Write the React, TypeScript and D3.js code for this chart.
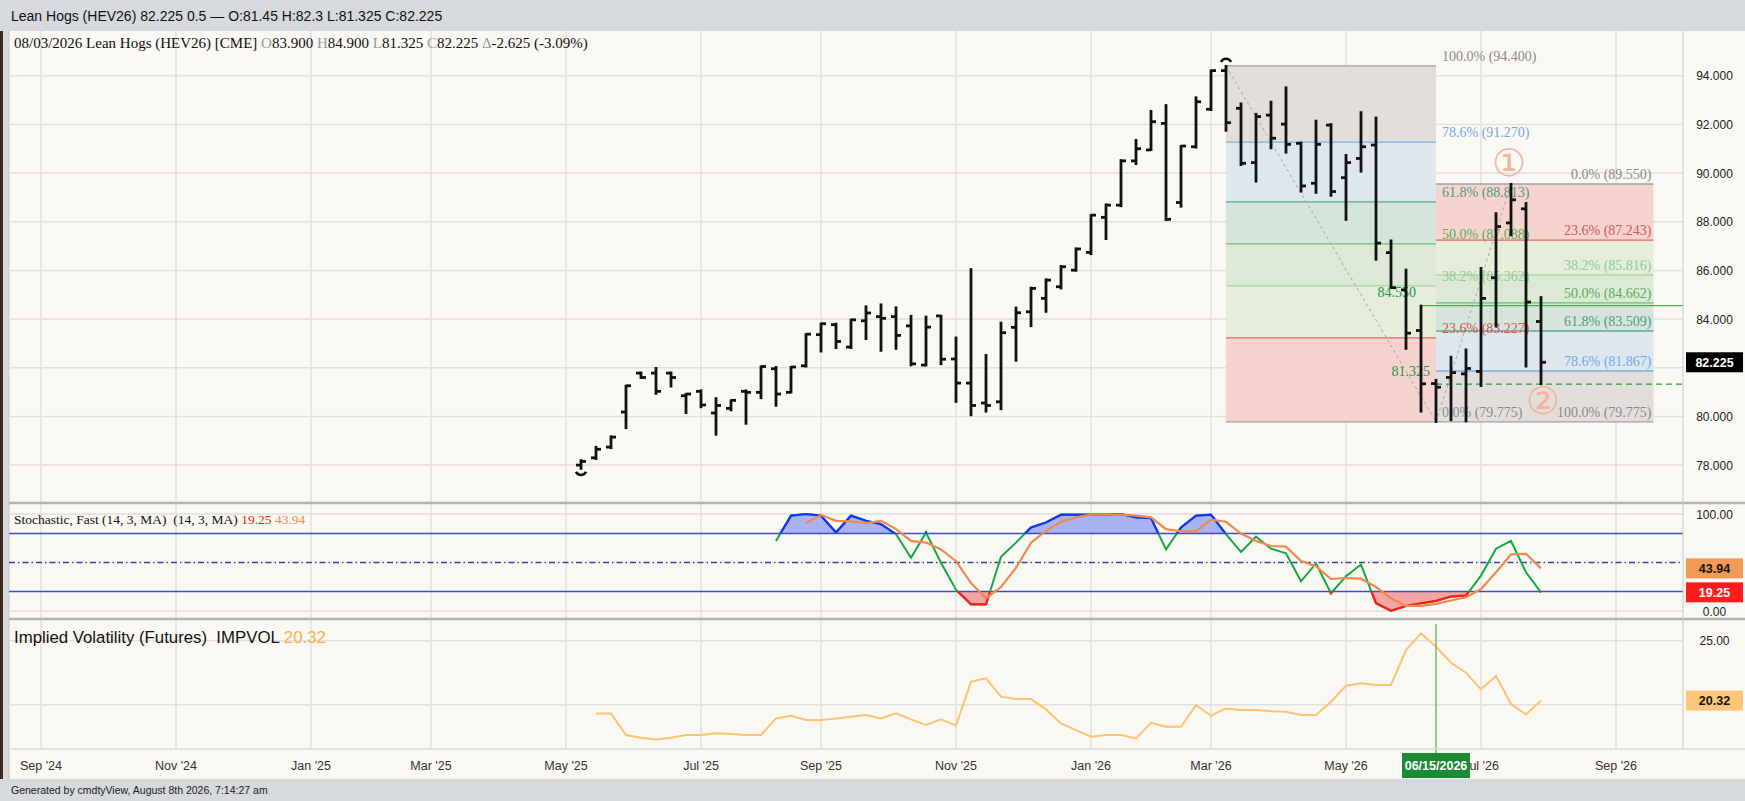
import * as d3 from "d3";

// weekly axis: index 0 = week of 2024-09-02
const axisStartStr = "2024-09-02";
const tickDates = ["2024-09-02", "2024-11-04", "2025-01-06", "2025-03-03", "2025-05-05", "2025-07-07", "2025-09-01", "2025-11-03", "2026-01-05", "2026-03-02", "2026-05-04", "2026-07-06", "2026-09-07"];
const tickLabels = ["Sep '24", "Nov '24", "Jan '25", "Mar '25", "May '25", "Jul '25", "Sep '25", "Nov '25", "Jan '26", "Mar '26", "May '26", "Jul '26", "Sep '26"];

// weekly OHLC starting week of 2025-05-12
const firstBar = "2025-05-12";
const opens = [78.0, 78.3, 78.74, 80.18, 81.78, 81.78, 81.78, 80.85, 81.03, 80.14, 80.33, 81.03, 80.99, 81.96, 80.99, 82.08, 83.36, 83.77, 82.85, 83.93, 84.1, 84.1, 83.72, 82.11, 84.13, 82.36, 81.37, 80.55, 80.6, 83.66, 84.3, 84.85, 85.33, 86.01, 86.74, 88.18, 88.68, 90.5, 90.95, 92.04, 88.79, 91.08, 92.62, 94.21, 92.66, 90.43, 92.38, 92.01, 91.22, 89.58, 91.97, 89.81, 90.6, 91.15, 86.73, 85.2, 83.53, 81.35, 81.6, 81.75, 81.85, 85.7, 87.95, 88.53, 83.9];
const highs = [78.2, 78.75, 79.18, 81.26, 81.8, 81.99, 81.8, 80.92, 81.07, 80.75, 80.66, 81.07, 82.05, 82.03, 82.03, 83.38, 83.81, 83.81, 83.97, 84.52, 84.6, 84.48, 84.13, 84.1, 84.13, 83.24, 86.05, 82.52, 83.85, 84.47, 85.29, 85.63, 86.18, 86.9, 88.27, 88.71, 90.53, 91.36, 92.55, 92.79, 91.11, 93.11, 94.21, 94.4, 92.86, 92.43, 92.93, 93.52, 91.25, 92.15, 92.01, 90.74, 92.5, 92.28, 87.23, 86.03, 84.55, 81.5, 82.45, 82.75, 86.1, 88.35, 89.55, 88.77, 84.9];
const lows = [77.85, 78.25, 78.7, 79.52, 81.58, 80.93, 81.23, 80.14, 80.38, 79.25, 80.25, 79.7, 80.75, 80.44, 80.99, 82.05, 82.67, 82.81, 82.81, 83.18, 82.7, 82.78, 82.1, 82.1, 82.15, 80.6, 80.05, 80.2, 80.3, 82.29, 83.71, 84.3, 85.26, 85.99, 86.67, 87.29, 88.64, 90.37, 90.95, 88.07, 88.62, 91.05, 92.59, 91.74, 90.33, 89.65, 91.02, 90.84, 89.24, 89.19, 89.07, 88.08, 90.06, 86.44, 85.29, 82.78, 80.2, 79.775, 79.85, 79.8, 81.25, 83.7, 87.45, 82.05, 81.325];
const closes = [78.15, 78.65, 79.15, 81.26, 81.6, 81.03, 81.6, 80.92, 80.47, 80.45, 80.66, 80.99, 82.05, 80.92, 82.03, 83.38, 83.81, 83.08, 83.97, 84.25, 84.03, 83.33, 82.16, 83.67, 82.35, 81.37, 80.45, 80.45, 83.44, 84.26, 85.26, 85.6, 86.15, 86.88, 88.27, 88.68, 90.5, 91.0, 92.11, 88.1, 91.11, 92.93, 94.21, 92.07, 90.4, 92.32, 91.43, 91.18, 89.47, 91.18, 89.24, 90.43, 91.08, 87.12, 85.29, 83.42, 81.34, 81.2, 81.8, 81.97, 84.85, 87.8, 88.9, 84.7, 82.225];

const priceTicks = [78, 80, 82, 84, 86, 88, 90, 92, 94];

// stochastic %K from week of 2025-08-11, %D from week of 2025-08-25
const stochKStart = "2025-08-11";
const stochK = [72.2, 98.3, 100, 98.3, 80.9, 98.3, 93, 89.6, 79.2, 54.9, 80.9, 49.7, 21.9, 6.9, 6.9, 55.9, 70.5, 86.1, 91.3, 99.3, 99.3, 99.3, 99.3, 100, 96.5, 95.8, 63.5, 86.1, 98.3, 99.3, 79.2, 60.8, 76.7, 64.2, 59.4, 30.6, 49, 18.4, 35.8, 47.9, 8, 0.3, 5.2, 8, 10.4, 14.9, 16, 36.5, 64.2, 72.2, 39.9, 19.25];
const stochDStart = "2025-08-25";
const stochD = [90.6, 99, 93, 92.4, 90.6, 93, 84.4, 72.2, 70.5, 63.5, 51.4, 28.8, 13.2, 24.7, 44.4, 70.5, 82.6, 92, 96.5, 99.3, 99.3, 99.3, 98.3, 96.5, 84.4, 82, 82, 94.1, 92, 79.9, 72.2, 67, 66.3, 51.4, 46.2, 33, 34, 33.3, 24.7, 13.2, 5.2, 5.2, 7.3, 10.8, 14.2, 22.6, 39.9, 58.3, 59, 43.94];

// implied volatility from week of 2025-05-19
const ivStart = "2025-05-19";
const impVol = [19.32, 19.32, 17.63, 17.42, 17.29, 17.42, 17.63, 17.63, 17.76, 17.71, 17.63, 17.63, 18.93, 19.14, 18.8, 18.8, 18.93, 19.06, 19.19, 18.93, 19.32, 18.85, 18.41, 18.85, 18.36, 21.8, 22.06, 20.63, 20.44, 20.44, 19.64, 18.54, 18.02, 17.5, 17.63, 17.63, 17.37, 18.59, 18.28, 18.28, 19.97, 19.14, 19.71, 19.58, 19.58, 19.48, 19.45, 19.19, 19.19, 20.23, 21.48, 21.67, 21.54, 21.54, 24.27, 25.57, 24.53, 23.28, 22.5, 21.2, 22.24, 20.05, 19.24, 20.32];

// fibonacci retracements
const fibLevels = [0, 0.236, 0.382, 0.5, 0.618, 0.786, 1];
const fib1Prices = [79.775, 83.227, 85.362, 87.088, 88.813, 91.27, 94.4];
const fib2Prices = [89.55, 87.243, 85.816, 84.662, 83.509, 81.867, 79.775];
const fib1From = "2026-03-09";
const fib1To = "2026-06-15";
const fib2Weeks = 14.5;

const parse = d3.timeParse("%Y-%m-%d");
const axisStart = parse(axisStartStr)!;
const wk = (s: string) => d3.timeMonday.count(axisStart, parse(s)!);

const zoneFill = ["#f5d4cf", "#e6eddb", "#dde9d6", "#d6e5dc", "#dfe7ee", "#e2dedb"];
const lineColor = ["#a0a0a8", "#e06464", "#a4d8a4", "#6cc06c", "#58a892", "#78b0ea", "#a0a0a8"];
const labelColor = ["#8a8a8a", "#d45454", "#92cc92", "#56ad56", "#4c9a82", "#70a8e4", "#8a8a8a"];

const SERIF = "Liberation Serif";
const SANS = "Liberation Sans";

export default function App() {
  const x = d3.scaleLinear().domain([0, 105]).range([41, 1616]);
  const yP = d3.scaleLinear().domain([78, 94]).range([465.1, 75.7]);
  const yS = d3.scaleLinear().domain([0, 100]).range([611, 514]);
  const yV = d3.scaleLinear().domain([20, 25]).range([704.7, 640.7]);

  const plotL = 9;
  const plotR = 1683;
  const b0 = wk(firstBar);
  const k0 = wk(stochKStart);
  const d0 = wk(stochDStart);
  const v0 = wk(ivStart);

  const kPts: [number, number][] = stochK.map((v, i) => [k0 + i, v]);
  const dPts: [number, number][] = stochD.map((v, i) => [d0 + i, v]);
  const vPts: [number, number][] = impVol.map((v, i) => [v0 + i, v]);

  const sLine = d3.line<[number, number]>().x((d) => x(d[0])).y((d) => yS(d[1]));
  const vLine = d3.line<[number, number]>().x((d) => x(d[0])).y((d) => yV(d[1]));
  const areaHi = d3.area<[number, number]>().x((d) => x(d[0])).y0(yS(80)).y1((d) => yS(d[1]));
  const areaLo = d3.area<[number, number]>().x((d) => x(d[0])).y0(yS(20)).y1((d) => yS(d[1]));

  const hiIdx = wk(fib1From);
  const loIdx = wk(fib1To);
  const f1a = x(hiIdx);
  const f1b = x(loIdx);
  const f2b = x(loIdx + fib2Weeks);
  const f2hiIdx = b0 + highs.indexOf(89.55);

  const tick = 5;
  const lastIdx = b0 + closes.length - 1;
  const lastClose = closes[closes.length - 1];
  const lastK = stochK[stochK.length - 1];
  const lastD = stochD[stochD.length - 1];
  const lastV = impVol[impVol.length - 1];
  // axis labels hidden behind the last-price box
  const visibleTicks = priceTicks.filter((p) => Math.abs(yP(p) - yP(lastClose)) > 14);

  const axisBox = (y: number, text: string, fill: string, color: string, key: string) => (
    <g key={key}>
      <rect x={1686} y={y - 10} width={57} height={20} fill={fill} />
      <text x={1714.5} y={y + 4.5} textAnchor="middle" fontSize={12.5} fontWeight="bold" fill={color}>{text}</text>
    </g>
  );

  return (
    <svg width={1745} height={801} style={{ position: "absolute", left: 0, top: 0, display: "block" }} fontFamily={SANS}>
      <defs>
        <clipPath id="above80"><rect x={0} y={504} width={1745} height={yS(80) - 504} /></clipPath>
        <clipPath id="below20"><rect x={0} y={yS(20)} width={1745} height={620 - yS(20)} /></clipPath>
      </defs>
      {/* frame */}
      <rect x={0} y={0} width={1745} height={801} fill="#d6d9dd" />
      <rect x={0} y={31} width={3} height={748} fill="#3a2a1c" />
      <rect x={plotL} y={31} width={1745 - plotL} height={748} fill="#faf8f2" />
      <line x1={plotL} x2={plotL} y1={31} y2={779} stroke="#c4c4c4" strokeWidth={1} />
      <text x={11} y={21} fontSize={14} fill="#111">Lean Hogs (HEV26) 82.225 0.5 — O:81.45 H:82.3 L:81.325 C:82.225</text>

      {/* grid */}
      {tickDates.map((t) => (
        <line key={t} x1={x(wk(t))} x2={x(wk(t))} y1={31} y2={749} stroke="#e3e1dd" strokeWidth={1.5} />
      ))}
      {priceTicks.map((p) => (
        <line key={p} x1={plotL} x2={plotR} y1={yP(p)} y2={yP(p)} stroke="#e3e1dd" strokeWidth={1.5} />
      ))}
      {[0, 100].map((v) => (
        <line key={v} x1={plotL} x2={plotR} y1={yS(v)} y2={yS(v)} stroke="#e3e1dd" strokeWidth={1.5} />
      ))}
      {[20, 25].map((v) => (
        <line key={v} x1={plotL} x2={plotR} y1={yV(v)} y2={yV(v)} stroke="#e3e1dd" strokeWidth={1.5} />
      ))}

      {/* fib 1 */}
      {fibLevels.slice(0, -1).map((l, i) => (
        <rect key={"z1" + l} x={f1a} width={f1b - f1a} y={yP(fib1Prices[i + 1])} height={yP(fib1Prices[i]) - yP(fib1Prices[i + 1])} fill={zoneFill[i]} />
      ))}
      {/* fib 2 */}
      {fibLevels.slice(0, -1).map((l, i) => (
        <rect key={"z2" + l} x={f1b} width={f2b - f1b} y={yP(fib2Prices[i])} height={yP(fib2Prices[i + 1]) - yP(fib2Prices[i])} fill={zoneFill[i]} />
      ))}
      {fibLevels.map((l, i) => (
        <line key={"l1" + l} x1={f1a} x2={f1b} y1={yP(fib1Prices[i])} y2={yP(fib1Prices[i])} stroke={lineColor[i]} strokeWidth={1.3} />
      ))}
      {fibLevels.map((l, i) => (
        <line key={"l2" + l} x1={f1b} x2={f2b} y1={yP(fib2Prices[i])} y2={yP(fib2Prices[i])} stroke={lineColor[i]} strokeWidth={1.3} />
      ))}
      <line x1={x(hiIdx)} y1={yP(94.4)} x2={x(loIdx)} y2={yP(79.775)} stroke="#a8a8a8" strokeWidth={1} strokeDasharray="3,3" />
      <line x1={x(loIdx)} y1={yP(79.775)} x2={x(f2hiIdx)} y2={yP(89.55)} stroke="#a8a8a8" strokeWidth={1} strokeDasharray="3,3" />

      {/* green reference lines */}
      <line x1={x(b0 + highs.indexOf(84.55))} x2={plotR} y1={yP(84.55)} y2={yP(84.55)} stroke="#3cb44b" strokeWidth={1.3} />
      <line x1={x(loIdx)} x2={plotR} y1={yP(81.325)} y2={yP(81.325)} stroke="#2a9a3a" strokeWidth={1.3} strokeDasharray="6,4" />

      {/* fib labels */}
      {fibLevels.map((l, i) => (
        <text key={"t1" + l} x={f1b + 6} y={yP(fib1Prices[i]) - 5} fontFamily={SERIF} fontSize={14} fill={labelColor[i]}>
          {`${(l * 100).toFixed(1)}% (${fib1Prices[i].toFixed(3)})`}
        </text>
      ))}
      {fibLevels.map((l, i) => (
        <text key={"t2" + l} x={f2b - 2} y={yP(fib2Prices[i]) - 5} textAnchor="end" fontFamily={SERIF} fontSize={14} fill={labelColor[i]}>
          {`${(l * 100).toFixed(1)}% (${fib2Prices[i].toFixed(3)})`}
        </text>
      ))}
      <text x={x(f2hiIdx) - 2} y={yP(89.55) - 8} textAnchor="middle" fontSize={38} fill="#f3b4a2">①</text>
      <text x={x(lastIdx) + 2} y={yP(79.775) - 8} textAnchor="middle" fontSize={38} fill="#f3b4a2">②</text>
      <text x={1416} y={297} textAnchor="end" fontFamily={SERIF} fontSize={14} fill="#1e9a3c">84.550</text>
      <text x={1430} y={376} textAnchor="end" fontFamily={SERIF} fontSize={14} fill="#1e9a3c">81.325</text>

      {/* price bars */}
      {opens.map((o, i) => {
        const cx = x(b0 + i);
        return (
          <g key={"b" + i} stroke="#111" strokeWidth={2.8}>
            <line x1={cx} x2={cx} y1={yP(highs[i]) - 1} y2={yP(lows[i]) + 1} />
            <line x1={cx - tick} x2={cx} y1={yP(o)} y2={yP(o)} />
            <line x1={cx} x2={cx + tick} y1={yP(closes[i])} y2={yP(closes[i])} />
          </g>
        );
      })}
      <path d={`M${x(hiIdx) - 5},${yP(94.4) - 4} A5.5,5.5 0 0 1 ${x(hiIdx) + 5},${yP(94.4) - 4}`} fill="none" stroke="#111" strokeWidth={2.5} />
      <path d={`M${x(b0) - 5},${yP(lows[0]) + 3} A5.5,5.5 0 0 0 ${x(b0) + 5},${yP(lows[0]) + 3}`} fill="none" stroke="#111" strokeWidth={2.5} />

      <text x={14} y={48} fontFamily={SERIF} fontSize={15} fill="#111">
        08/03/2026 Lean Hogs (HEV26) [CME] <tspan fill="#999">O</tspan>83.900 <tspan fill="#999">H</tspan>84.900 <tspan fill="#999">L</tspan>81.325 <tspan fill="#999">C</tspan>82.225 <tspan fill="#999">Δ</tspan>-2.625 (-3.09%)
      </text>

      {/* stochastic */}
      <path d={areaHi(kPts) || ""} fill="#a9b3f2" clipPath="url(#above80)" />
      <path d={areaLo(kPts) || ""} fill="#f4a6a6" clipPath="url(#below20)" />
      <line x1={plotL} x2={plotR} y1={yS(80)} y2={yS(80)} stroke="#3e4fc0" strokeWidth={1.5} />
      <line x1={plotL} x2={plotR} y1={yS(20)} y2={yS(20)} stroke="#3e4fc0" strokeWidth={1.5} />
      <line x1={plotL} x2={plotR} y1={yS(50)} y2={yS(50)} stroke="#34449e" strokeWidth={1.3} strokeDasharray="6,3,1.5,3" />
      <path d={sLine(kPts) || ""} fill="none" stroke="#16a845" strokeWidth={2} />
      <path d={sLine(kPts) || ""} fill="none" stroke="#1432ff" strokeWidth={2.2} clipPath="url(#above80)" />
      <path d={sLine(kPts) || ""} fill="none" stroke="#ff1a1a" strokeWidth={2.2} clipPath="url(#below20)" />
      <path d={sLine(dPts) || ""} fill="none" stroke="#f08a4b" strokeWidth={2.2} />
      <text x={14} y={524} fontFamily={SERIF} fontSize={13.5} fill="#111">
        {"Stochastic, Fast (14, 3, MA)\u00a0\u00a0(14, 3, MA) "}<tspan fill="#ee1c1c">{lastK.toFixed(2)}</tspan>{" "}<tspan fill="#f08a4b">{lastD.toFixed(2)}</tspan>
      </text>

      {/* implied volatility */}
      <path d={vLine(vPts) || ""} fill="none" stroke="#ffc272" strokeWidth={2} />
      <line x1={x(loIdx)} x2={x(loIdx)} y1={624} y2={753} stroke="#62c06a" strokeWidth={1.5} />
      <text x={14} y={643} fontSize={16.8} fill="#111">
        {"Implied Volatility (Futures)\u00a0\u00a0IMPVOL "}<tspan fill="#f5b04c">{lastV.toFixed(2)}</tspan>
      </text>

      {/* panel separators */}
      <line x1={plotL} x2={1745} y1={503} y2={503} stroke="#b4b4b4" strokeWidth={2.5} />
      <line x1={plotL} x2={1745} y1={619} y2={619} stroke="#b4b4b4" strokeWidth={2.5} />
      <line x1={plotL} x2={1745} y1={749} y2={749} stroke="#dedcd8" strokeWidth={1.5} />
      <line x1={plotR} x2={plotR} y1={31} y2={749} stroke="#c8c8c8" strokeWidth={1} />

      {/* right axis */}
      {visibleTicks.map((p) => (
        <text key={"pt" + p} x={1714.5} y={yP(p) + 4.5} textAnchor="middle" fontSize={12} fill="#222">{p.toFixed(3)}</text>
      ))}
      <text x={1714.5} y={yS(100) + 4.5} textAnchor="middle" fontSize={12} fill="#222">100.00</text>
      <text x={1714.5} y={yS(0) + 4.5} textAnchor="middle" fontSize={12} fill="#222">0.00</text>
      <text x={1714.5} y={yV(25) + 4.5} textAnchor="middle" fontSize={12} fill="#222">25.00</text>
      {axisBox(yP(lastClose), lastClose.toFixed(3), "#000", "#fff", "pc")}
      {axisBox(yS(lastD), lastD.toFixed(2), "#f29a55", "#111", "sd")}
      {axisBox(yS(lastK), lastK.toFixed(2), "#ff1c1c", "#fff", "sk")}
      {axisBox(yV(lastV), lastV.toFixed(2), "#ffc67a", "#111", "iv")}

      {/* x axis */}
      {tickDates.map((t, i) => (
        <text key={"xl" + t} x={x(wk(t))} y={770} textAnchor="middle" fontSize={12.5} fill="#333">{tickLabels[i]}</text>
      ))}
      <rect x={x(loIdx) - 34} y={753} width={68} height={25} fill="#1b8a35" />
      <text x={x(loIdx)} y={770} textAnchor="middle" fontSize={12.5} fontWeight="bold" fill="#fff">06/15/2026</text>

      {/* footer */}
      <rect x={0} y={779} width={1745} height={22} fill="#d6d9dd" />
      <text x={11} y={794} fontSize={10.5} fill="#222">Generated by cmdtyView, August 8th 2026, 7:14:27 am</text>
    </svg>
  );
}
